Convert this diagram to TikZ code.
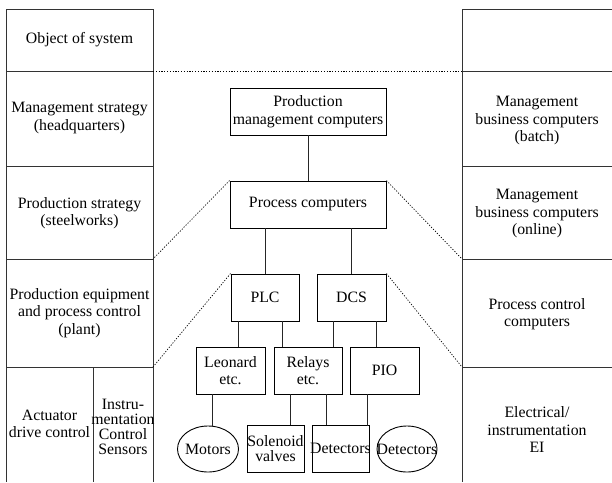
\documentclass[tikz,border=0pt]{standalone}
\usepackage{fontspec}
\setmainfont{Liberation Serif}
\usetikzlibrary{shapes.geometric}

\begin{document}
\begin{tikzpicture}[x=1pt, y=-1pt,
    every node/.style={font=\fontsize{15.8}{17.5}\selectfont, align=center},
    grid/.style={line width=0.9pt, black!80},
    box/.style={draw, line width=0.9pt, inner sep=0.5pt, minimum height=47},
    oval/.style={draw, ellipse, line width=0.9pt, inner sep=0pt, minimum width=61, minimum height=46},
    link/.style={line width=0.9pt, black!85},
    guide/.style={line width=0.7pt, dash pattern=on 1.2pt off 1.6pt}]

    \useasboundingbox (0,0) rectangle (612,482);

    % Define parameters
    \def\lleft{6}      % Left edge of the level column
    \def\lright{153}   % Right edge of the level column
    \def\lsplit{93}    % Split of the lowest level cell
    \def\rleft{462}    % Left edge of the system column
    \def\rright{612}   % Right edge of the system column

    % Draw the two side columns
    \foreach \y in {9,71,166,259,367} {
        \draw[grid] (\lleft,\y) -- (\lright,\y);
        \draw[grid] (\rleft,\y) -- (\rright,\y);
    }
    \draw[grid] (\lleft,9) -- (\lleft,482);
    \draw[grid] (\lright,9) -- (\lright,482);
    \draw[grid] (\lsplit,367) -- (\lsplit,482);
    \draw[grid] (\rleft,9) -- (\rleft,482);

    % Level names
    \node (obj)  at (79.5,40)  {Object of system};
    \node (mgmt) at (79.5,118) {Management strategy\\(headquarters)};
    \node (prod) at (79.5,213) {Production strategy\\(steelworks)};
    \node (plant) at (79.5,313) {Production equipment\\and process control\\(plant)};
    \node (act)  at (49.5,424) {Actuator\\drive control};
    \node[font=\fontsize{15.8}{15}\selectfont] (inst) at (123,427) {Instru-\\mentation\\Control\\Sensors};

    % System names
    \node (batch)  at (537,121) {Management\\business computers\\(batch)};
    \node (online) at (537,214) {Management\\business computers\\(online)};
    \node (pcc)    at (537,314) {Process control\\computers};
    \node (ei)     at (537,430) {Electrical/\\instrumentation\\EI};

    % Computer hierarchy
    \node[box, minimum width=156] (pmc) at (308,111.5) {Production\\management computers};
    \node[box, minimum width=156] (pc)  at (308,204.5) {Process computers};
    \node[box, minimum width=68] (plc) at (265,297.5)  {PLC};
    \node[box, minimum width=69] (dcs) at (351.5,297.5) {DCS};
    \node[box, minimum width=69] (leo) at (230.5,370.5) {Leonard\\etc.};
    \node[box, minimum width=68] (rel) at (308,370.5)  {Relays\\etc.};
    \node[box, minimum width=69] (pio) at (384.5,370.5) {PIO};

    % Field devices
    \node[oval] (mot) at (208,449) {\makebox[0pt]{Motors}};
    \node[box, minimum width=57, inner sep=0pt, font=\fontsize{15.8}{15}\selectfont] (sol) at (275.5,448.5) {Solenoid\\valves};
    \node[box, minimum width=57, inner sep=0pt] (det) at (340.5,448.5) {\makebox[0pt]{Detectors}};
    \node[oval, minimum width=60] (sen) at (407,449) {\makebox[0pt]{Detectors}};

    % Connect the levels
    \draw[link] (pmc) -- (pc);
    \draw[link] (pc.south -| plc.north) -- (plc.north);
    \draw[link] (pc.south -| dcs.north) -- (dcs.north);
    \draw[link] ([xshift=8]plc.south west) -- ([xshift=8]plc.south west |- leo.north);
    \draw[link] ([xshift=-17]plc.south east) -- ([xshift=-17]plc.south east |- rel.north);
    \draw[link] ([xshift=17]dcs.south west) -- ([xshift=17]dcs.south west |- rel.north);
    \draw[link] ([xshift=-10]dcs.south east) -- ([xshift=-10]dcs.south east |- pio.north);
    \draw[link] ([xshift=17]leo.south west) -- ([xshift=17]leo.south west |- mot.north);
    \draw[link] ([xshift=17]rel.south west) -- ([xshift=17]rel.south west |- sol.north);
    \draw[link] ([xshift=-16]rel.south east) -- ([xshift=-16]rel.south east |- det.north);
    \draw[link] ([xshift=17.5]pio.south west) -- ([xshift=17.5]pio.south west |- sen.north);

    % Dotted guides to the columns
    \coordinate (lt) at (\lright,71);
    \coordinate (rt) at (\rleft,71);
    \coordinate (l2) at (\lright,259);
    \coordinate (l3) at (\lright,367);
    \coordinate (r2) at (\rleft,259);
    \coordinate (r3) at (\rleft,367);
    \draw[guide] (lt) -- (rt);
    \draw[guide] (pc.north west) -- (l2);
    \draw[guide] (plc.north west) -- (l3);
    \draw[guide] (pc.north east) -- (r2);
    \draw[guide] (dcs.north east) -- (r3);

\end{tikzpicture}
\end{document}
